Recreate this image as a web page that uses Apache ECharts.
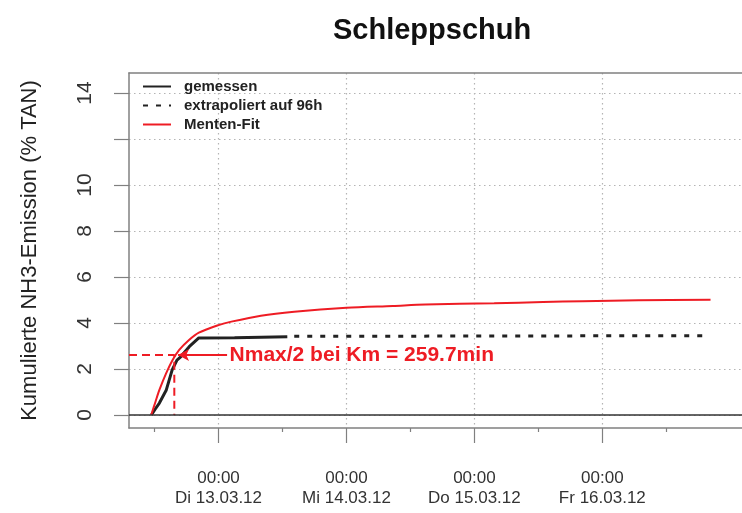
<!DOCTYPE html>
<html>
<head>
<meta charset="utf-8">
<script src="https://cdn.jsdelivr.net/npm/echarts@6/dist/echarts.min.js"></script>
<style>html,body{margin:0;padding:0;background:#fff}#c{width:742px;height:513px}</style>
</head>
<body>
<div id="c"></div>
<script>
// ---- data (hours relative to Di 13.03.12 00:00) ----
const measX = [-12.6, -11.9, -11.1, -9.8, -8.7, -7.8, -7.1, -5.5, -3.7, 3.0, 8.0, 12.9];
const measY = [0, 0.25, 0.52, 1.09, 1.96, 2.39, 2.53, 2.97, 3.35, 3.36, 3.38, 3.40];
const extX = [14.2, 90.8];
const extY = [3.42, 3.45];
const fitX = [-12.63, -11.8, -11.08, -9.84, -8.62, -7.38, -5.54, -3.69, 0, 2.4, 7.94, 14.2, 24, 32.7, 38.8, 51.7, 60.9, 68.3, 78.8, 92.3];
const fitY = [0, 0.6, 1.1, 1.81, 2.39, 2.83, 3.26, 3.58, 3.91, 4.06, 4.32, 4.49, 4.66, 4.74, 4.80, 4.86, 4.91, 4.95, 4.99, 5.01];
const kmX = -8.3;          // Km position (259.7 min after start)
const halfN = 2.61;        // Nmax/2
const arrowFromX = 1.6;    // start of the arrow (text position)
const arrowToX = -7.6;
const annotText = 'Nmax/2 bei Km = 259.7min';
const majorTicks = [0, 24, 48, 72];
const minorTicks = [-12, 12, 36, 60, 84];
const dayLabels = ['Di 13.03.12', 'Mi 14.03.12', 'Do 15.03.12', 'Fr 16.03.12'];
const yTicks = [0, 2, 4, 6, 8, 10, 12, 14];
const yLabels = [0, 2, 4, 6, 8, 10, 14];
const seriesNames = ['gemessen', 'extrapoliert auf 96h', 'Menten-Fit'];

const xMin = -16.8, xMax = 98.2, yMin = -0.565, yMax = 14.87;
const RED = '#ee1c24', BLACK = '#222', AX = '#808080', GRID = '#b4b4b4';
const FONT = '"Liberation Sans", Arial, sans-serif';

const zip = (a, b) => a.map((v, i) => [v, b[i]]);

const chart = echarts.init(document.getElementById('c'), null, {renderer: 'canvas'});
const baseX = {type: 'value', min: xMin, max: xMax, position: 'bottom'};
chart.setOption({
  animation: false,
  backgroundColor: '#fff',
  title: {
    text: 'Schleppschuh', left: 333, top: 16, padding: 0,
    textStyle: {fontFamily: FONT, fontSize: 29, fontWeight: 'bold', color: '#111'}
  },
  legend: {
    data: seriesNames, orient: 'vertical', left: 142, top: 79,
    itemWidth: 28, itemHeight: 14, itemGap: 4, padding: 0,
    itemStyle: {opacity: 0},
    textStyle: {fontFamily: FONT, fontSize: 15, fontWeight: 'bold', color: '#222', padding: [0, 0, 0, 8]}
  },
  grid: {left: 129, top: 73, right: -10, bottom: 85, containLabel: false},
  xAxis: [
    Object.assign({}, baseX, {
      axisLine: {show: true, onZero: false, lineStyle: {color: AX, width: 1.5}},
      axisTick: {show: true, customValues: majorTicks, length: 15, lineStyle: {color: AX, width: 1.2}},
      axisLabel: {
        customValues: majorTicks, margin: 41, lineHeight: 19.5,
        fontFamily: FONT, fontSize: 17, color: '#333',
        formatter: v => '00:00\n' + dayLabels[majorTicks.indexOf(v)]
      },
      splitLine: {show: true, lineStyle: {color: GRID, type: [1.5, 3.5], width: 1.2}}
    }),
    Object.assign({}, baseX, {
      axisLine: {show: false, onZero: false},
      axisTick: {show: true, customValues: minorTicks, length: 4, lineStyle: {color: AX, width: 1.2}},
      axisLabel: {show: false},
      splitLine: {show: false}
    }),
    Object.assign({}, baseX, {
      position: 'top',
      axisLine: {show: true, onZero: false, lineStyle: {color: AX, width: 1.5}},
      axisTick: {show: false}, axisLabel: {show: false}, splitLine: {show: false}
    })
  ],
  yAxis: {
    type: 'value', min: yMin, max: yMax,
    name: 'Kumulierte NH3-Emission (% TAN)', nameLocation: 'middle', nameGap: 88,
    nameTextStyle: {fontFamily: FONT, fontSize: 22, color: '#222'},
    axisLine: {show: true, onZero: false, lineStyle: {color: AX, width: 1.5}},
    axisTick: {show: true, customValues: yTicks, length: 15, lineStyle: {color: AX, width: 1.2}},
    axisLabel: {customValues: yLabels, rotate: 90, margin: 33, fontFamily: FONT, fontSize: 21, color: '#333'},
    splitLine: {show: true, lineStyle: {color: GRID, type: [1.5, 3.5], width: 1.2}}
  },
  series: [
    {
      name: 'gemessen', type: 'line', data: zip(measX, measY), symbol: 'none',
      lineStyle: {color: BLACK, width: 3}, itemStyle: {color: BLACK}, z: 3,
      markLine: {
        silent: true, symbol: 'none', label: {show: false},
        lineStyle: {color: '#333', width: 1.5, type: 'solid'},
        data: [{yAxis: 0}]
      }
    },
    {
      name: 'extrapoliert auf 96h', type: 'line', data: zip(extX, extY), symbol: 'none',
      lineStyle: {color: BLACK, width: 3, type: [5, 8]}, itemStyle: {color: BLACK}, z: 3
    },
    {
      name: 'Menten-Fit', type: 'line', data: zip(fitX, fitY), symbol: 'none', smooth: 0.3,
      lineStyle: {color: RED, width: 2}, itemStyle: {color: RED}, z: 4
    },
    {
      name: 'km', type: 'line', data: [[xMin, halfN], [kmX, halfN], [kmX, 0]], symbol: 'none',
      lineStyle: {color: RED, width: 2, type: [8, 5]}, z: 4
    },
    {
      name: 'arrow', type: 'line', z: 5,
      data: [
        {value: [arrowFromX, halfN], symbol: 'none'},
        {value: [arrowToX, halfN], symbol: 'arrow', symbolSize: [9, 11], symbolRotate: 90}
      ],
      lineStyle: {color: RED, width: 2}, itemStyle: {color: RED}
    },
    {
      name: 'annot', type: 'scatter', z: 6, symbolSize: 1,
      itemStyle: {color: 'rgba(0,0,0,0)', opacity: 1},
      data: [[arrowFromX, halfN]],
      label: {show: true, position: 'right', distance: 2, formatter: annotText,
              fontFamily: FONT, fontSize: 21, fontWeight: 'bold', color: RED, opacity: 1}
    }
  ]
});
</script>
</body>
</html>
